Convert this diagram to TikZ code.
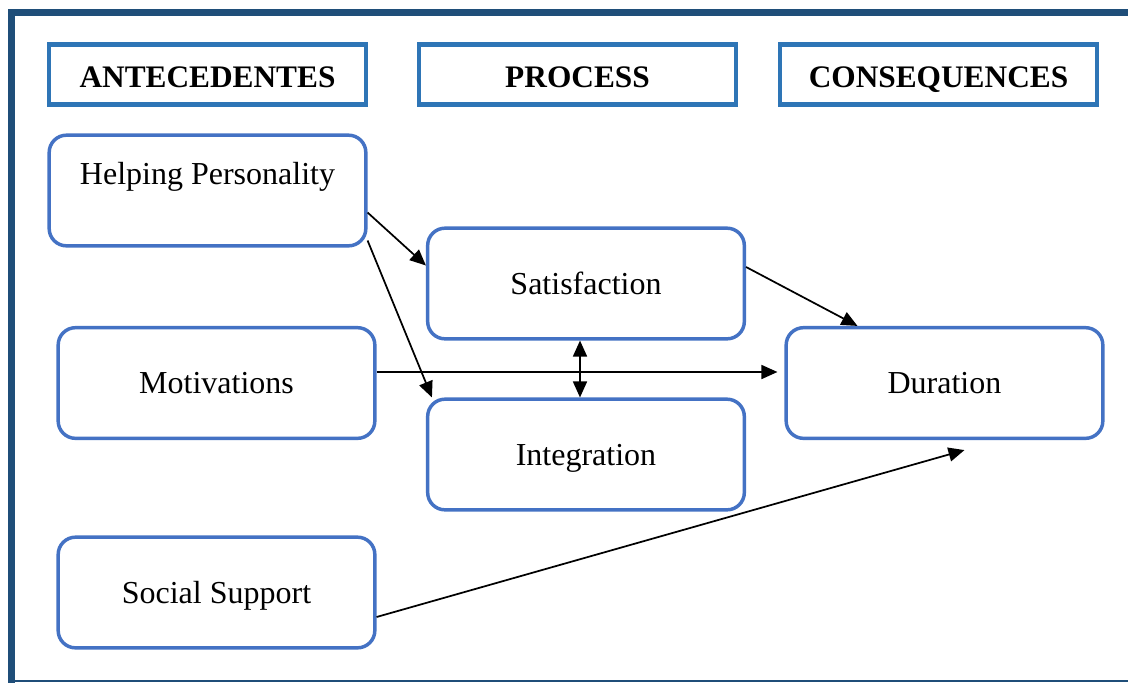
\documentclass[tikz,border=0pt]{standalone}
\usepackage{fontspec}
\setmainfont{Liberation Serif}
\usetikzlibrary{arrows.meta,calc}
\definecolor{framecol}{HTML}{1F4E79}
\definecolor{headcol}{HTML}{2E75B6}
\definecolor{boxcol}{HTML}{4472C4}
\begin{document}
\begin{tikzpicture}[x=0.75pt,y=-0.75pt,
  every node/.style={font=\fontsize{24}{28}\selectfont,text height=16pt,text depth=0pt},
  header/.style={draw=headcol,line width=3.2pt,minimum width=238pt,minimum height=45pt,
    inner sep=0pt,text height=19.5pt,font=\fontsize{23.5}{28}\selectfont\bfseries},
  roundbox/.style={draw=boxcol,line width=2.6pt,rounded corners=13pt,
    minimum width=237.5pt,minimum height=83pt,inner sep=0pt},
  link/.style={line width=1.3pt,-{Triangle[length=12pt,width=10.5pt]}},
  twoway/.style={line width=1.3pt,{Triangle[length=12pt,width=10.5pt]}-{Triangle[length=12pt,width=10.5pt]}}]
\useasboundingbox (0,0) rectangle (1128,683);
\fill[white] (0,0) rectangle (1128,683);
% outer frame
\fill[framecol] (7.5,8.5) rectangle (1128,15.5);
\fill[framecol] (7.5,8.5) rectangle (15,683);
\fill[framecol] (7.5,680) rectangle (1128,682);
% column headers
\node[header] (hA) at (207.5,74.5) {ANTECEDENTES};
\node[header] (hP) at (577.5,74.5) {PROCESS};
\node[header] (hC) at (938.5,74.5) {CONSEQUENCES};
% antecedents
\node[roundbox,label={[yshift=12.3pt]center:Helping Personality}] (hp) at (207.5,190.5) {};
\node[roundbox] (mot) at (216.5,383) {Motivations};
\node[roundbox] (soc) at (216.5,592.5) {Social Support};
% process
\node[roundbox] (sat) at (586,283.5) {Satisfaction};
\node[roundbox] (int) at (586,454.5) {Integration};
% consequence
\node[roundbox] (dur) at (944.5,383) {Duration};
% connectors
\draw[link] ($(hp.east)+(0,22)$) -- ($(sat.west)+(0,-18)$);
\draw[link] ($(hp.east)+(0,50)$) -- ($(int.north west)+(6,0)$);
\draw[link] ($(mot.east)+(0,-11)$) -- ($(dur.west)+(-7,-11)$);
\draw[twoway] ($(sat.south)+(-6,0)$) -- ($(int.north)+(-6,0)$);
\draw[link] ($(sat.east)+(0,-16.5)$) -- ($(dur.north)+(-87,0)$);
\draw[link] ($(soc.east)+(0,24.5)$) -- ($(dur.south)+(20,10)$);
\end{tikzpicture}
\end{document}
